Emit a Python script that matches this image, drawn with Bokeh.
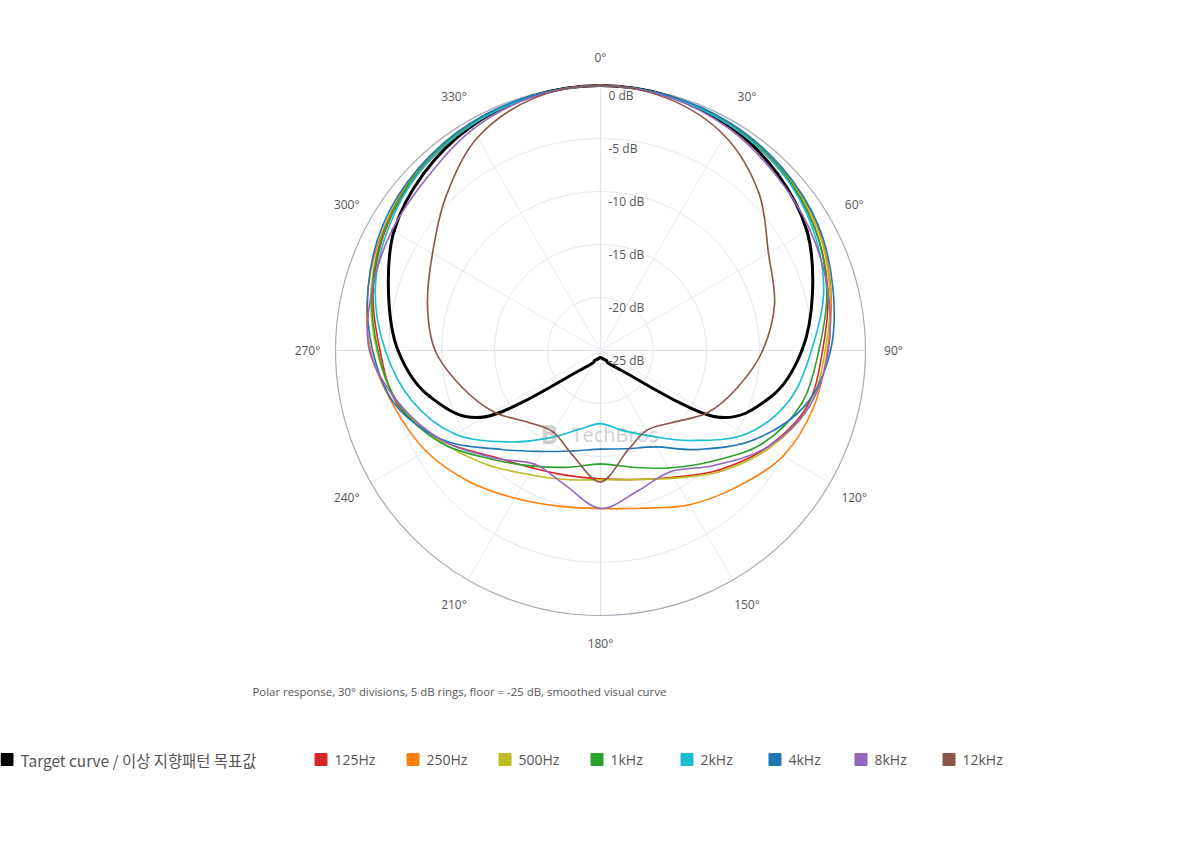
import numpy as np
from bokeh.plotting import figure
from bokeh.models import Range1d, ColumnDataSource
from bokeh.embed import file_html
from bokeh.resources import INLINE
from bokeh.core.properties import value

# ---------------- data (dB) ----------------
ANGLES = [0, 15, 30, 45, 60, 75, 90, 105, 120, 135, 150, 165,
          180, 195, 210, 225, 240, 255, 270, 285, 300, 315, 330, 345]

target_db = [0, -0.15, -0.6, -1.4, -2.5, -4.3, -6.0, -8.3, -12.5, -22.5, -23.9, -24.2,
             -24.35, -24.2, -23.9, -22.5, -12.5, -8.3, -5.9, -4.3, -2.5, -1.4, -0.6, -0.15]
hz125_db = [0, -0.2, -0.5, -1.0, -1.7, -2.8, -4.05, -4.8, -6.8, -9.1, -11.2, -12.4,
            -12.9, -12.8, -12.2, -10.8, -7.9, -5.2, -4.2, -2.8, -1.7, -1.0, -0.5, -0.2]
hz250_db = [0, -0.15, -0.4, -0.8, -1.4, -2.5, -3.6, -4.2, -5.1, -6.8, -8.2, -9.6,
            -10.1, -9.8, -8.9, -7.5, -6.0, -4.8, -3.3, -2.3, -1.5, -0.8, -0.4, -0.15]
hz500_db = [0, -0.15, -0.45, -0.9, -1.5, -2.6, -3.8, -4.6, -6.6, -8.9, -11.1, -12.4,
            -12.8, -12.4, -11.5, -9.8, -7.7, -5.3, -3.9, -2.6, -1.6, -0.9, -0.45, -0.15]
k1_db = [0, -0.15, -0.45, -0.9, -1.7, -2.9, -4.4, -5.4, -7.4, -10.2, -12.2, -13.6,
         -14.3, -13.6, -12.4, -10.5, -7.6, -5.3, -4.0, -2.7, -1.6, -0.9, -0.45, -0.15]
k2_db = [0, -0.2, -0.5, -1.0, -1.9, -3.2, -5.1, -6.6, -9.2, -13.0, -15.7, -17.2,
         -18.1, -17.3, -15.5, -12.8, -9.2, -6.6, -4.7, -3.0, -1.9, -1.0, -0.5, -0.2]
k4_db = [0, -0.1, -0.3, -0.7, -1.3, -2.3, -3.3, -5.0, -8.2, -11.8, -14.5, -15.4,
         -15.7, -15.2, -14.0, -11.8, -8.0, -5.0, -3.5, -2.3, -1.3, -0.7, -0.3, -0.1]
k8_db = [0, -0.25, -0.8, -1.6, -2.2, -2.8, -3.5, -4.6, -6.8, -9.7, -11.8, -11.3,
         -10.1, -11.9, -12.6, -10.7, -7.9, -5.4, -3.2, -2.7, -2.3, -1.9, -0.9, -0.25]
k12_db = [0, -0.4, -1.6, -3.9, -6.7, -8.0, -9.7, -11.6, -13.3, -15.4, -16.3, -15.2,
          -12.6, -14.8, -16.1, -15.4, -13.4, -11.5, -9.4, -8.1, -6.7, -4.4, -1.8, -0.4]

series_names = ["Target curve / 이상 지향패턴 목표값", "125Hz", "250Hz", "500Hz",
                "1kHz", "2kHz", "4kHz", "8kHz", "12kHz"]
series_values = [target_db, hz125_db, hz250_db, hz500_db, k1_db, k2_db, k4_db, k8_db, k12_db]
series_colors = ["#000000", "#d62728", "#ff7f0e", "#bcbd22", "#2ca02c",
                 "#17becf", "#1f77b4", "#9467bd", "#8c564b"]
series_widths = [3, 1.6, 1.6, 1.6, 1.6, 1.6, 1.6, 1.6, 1.6]

ring_db = [0, -5, -10, -15, -20, -25]
ring_labels = ["0 dB", "-5 dB", "-10 dB", "-15 dB", "-20 dB", "-25 dB"]
angle_ticks = [0, 30, 60, 90, 120, 150, 180, 210, 240, 270, 300, 330]
angle_labels = ["0°", "30°", "60°", "90°", "120°", "150°", "180°",
                "210°", "240°", "270°", "300°", "330°"]
caption = "Polar response, 30° divisions, 5 dB rings, floor = -25 dB, smoothed visual curve"

FLOOR = -25.0
TOP = 0.0

# ---------------- layout (page pixels) ----------------
W, H = 1184, 836
PX = 10.6            # pixels per dB of radius
CX, CY = 600, 350    # page position of the pole
OX, OY = 0, 0        # page position of the canvas corner


def dx(px):
    return (px - CX) / PX


def dy(py):
    return (CY - py) / PX


p = figure(width=W, height=H, output_backend="svg", toolbar_location=None,
           x_range=Range1d(dx(OX), dx(OX + W)), y_range=Range1d(dy(OY + H), dy(OY)),
           min_border=0, x_axis_location=None, y_axis_location=None,
           background_fill_color="white", border_fill_color="white")
p.outline_line_color = None
p.grid.visible = False

RMAX = TOP - FLOOR

# radial spokes
sp = np.radians(angle_ticks)
minor = [a % 90 != 0 for a in angle_ticks]
p.segment(x0=[0] * len(sp), y0=[0] * len(sp),
          x1=list(RMAX * np.sin(sp)), y1=list(RMAX * np.cos(sp)),
          line_color=["#eceff2" if m else "#dde3e9" for m in minor], line_width=1.2)

# rings
inner = [d - FLOOR for d in ring_db if FLOOR < d < TOP]
p.circle(x=[0] * len(inner), y=[0] * len(inner), radius=inner,
         fill_color=None, line_color="#e4e8ec", line_width=1)
p.circle(x=[0], y=[0], radius=[RMAX], fill_color=None, line_color="#a3adb6", line_width=1.2)

# watermark
p.text(x=[dx(540)], y=[dy(433)], text=["B"], text_font=value("Open Sans"),
       text_font_size="26px", text_font_style="bold", text_color="#a8a8a8", text_alpha=0.55,
       text_baseline="middle", text_align="left")
p.text(x=[dx(571)], y=[dy(434)], text=["TechBros"], text_font=value("Open Sans"),
       text_font_size="20px", text_color="#a8a8a8", text_alpha=0.55,
       text_baseline="middle", text_align="left")


def bezier_source(vals):
    r = np.clip(np.asarray(vals, float) - FLOOR, 0, None)
    t = np.radians(ANGLES)
    x = r * np.sin(t)
    y = r * np.cos(t)
    xp, yp = np.roll(x, 1), np.roll(y, 1)
    xn, yn = np.roll(x, -1), np.roll(y, -1)
    xnn, ynn = np.roll(x, -2), np.roll(y, -2)
    return ColumnDataSource(dict(
        x0=x, y0=y, x1=xn, y1=yn,
        cx0=x + (xn - xp) / 6.0, cy0=y + (yn - yp) / 6.0,
        cx1=xn - (xnn - x) / 6.0, cy1=yn - (ynn - y) / 6.0))


for vals, col, lw in zip(series_values, series_colors, series_widths):
    p.bezier(x0="x0", y0="y0", x1="x1", y1="y1", cx0="cx0", cy0="cy0",
             cx1="cx1", cy1="cy1", source=bezier_source(vals),
             line_color=col, line_width=lw, line_cap="round")

# angle labels
LR = 293 / PX
ta = np.radians(angle_ticks)
p.text(x=list(LR * np.sin(ta)), y=list(LR * np.cos(ta)), text=angle_labels,
       text_font=value("Open Sans"), text_font_size="12px", text_color="#555555",
       text_align="center", text_baseline="middle")

# ring labels
p.text(x=[0] * len(ring_db), y=[d - FLOOR for d in ring_db], text=ring_labels,
       x_offset=8, y_offset=10, text_font=value("Open Sans"), text_font_size="12px",
       text_color="#555555", text_align="left", text_baseline="middle")

# caption
p.text(x=[dx(252)], y=[dy(691)], text=[caption], text_font=value("Open Sans"),
       text_font_size="11.4px", text_color="#555555", text_align="left", text_baseline="middle")

# legend
leg_sq = [0, 314, 406, 498, 590, 680, 768, 854, 942]
LEG_Y = 759
p.scatter(x=[dx(s + 6.5) for s in leg_sq], y=[dy(LEG_Y)] * len(leg_sq), marker="square",
          size=11, fill_color=series_colors, line_color=series_colors,
          line_width=2, line_join="round")
p.text(x=[dx(s + 20) for s in leg_sq[1:]], y=[dy(LEG_Y)] * (len(leg_sq) - 1),
       text=series_names[1:], text_font=value("Open Sans"), text_font_size="14px",
       text_color="#555555", text_align="left", text_baseline="middle")
p.text(x=[dx(leg_sq[0] + 20)], y=[dy(LEG_Y)], text=series_names[:1],
       text_font=value("Noto Sans CJK KR"), text_font_size="15.4px",
       text_color="#555555", text_align="left", text_baseline="middle")

open("out.html", "w").write(file_html(p, INLINE))
